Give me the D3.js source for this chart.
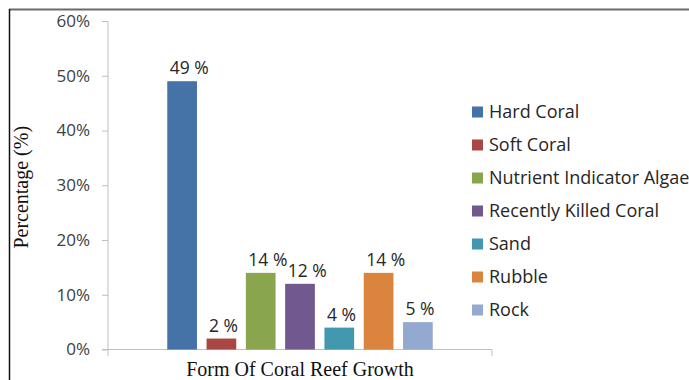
<!DOCTYPE html>
<html>
<head>
<meta charset="utf-8">
<script src="https://cdn.jsdelivr.net/npm/d3@7"></script>
<style>
  html, body { margin: 0; padding: 0; background: #fff; }
  svg { display: block; }
</style>
</head>
<body>
<svg id="chart" width="689" height="380"></svg>
<script>
// Benthic cover by growth form (percent)
const group = "Form Of Coral Reef Growth";
const forms = ["Hard Coral", "Soft Coral", "Nutrient Indicator Algae", "Recently Killed Coral", "Sand", "Rubble", "Rock"];
const cover = [49, 2, 14, 12, 4, 14, 5];
const colors = ["#4572A7", "#AA4643", "#89A54E", "#71588F", "#4198AF", "#DB843D", "#93A9CF"];
const yTicks = [0, 10, 20, 30, 40, 50, 60];

const svg = d3.select("#chart");
const W = 689, H = 380;
const plot = { left: 108, right: 492, top: 21, bottom: 349.5 };

// outer frame (top and left edges visible)
svg.append("line").attr("x1", 9).attr("x2", W).attr("y1", 9.5).attr("y2", 9.5)
  .attr("stroke", "#6b6b6b").attr("stroke-width", 2);
svg.append("line").attr("x1", 9.5).attr("x2", 9.5).attr("y1", 9).attr("y2", H)
  .attr("stroke", "#111").attr("stroke-width", 1.5);

const y = d3.scaleLinear().domain([0, 60]).range([plot.bottom, plot.top]);
const x0 = d3.scaleBand().domain([group]).range([plot.left, plot.right]).padding(0.1825);
const x1 = d3.scaleBand().domain(forms).range([0, x0.bandwidth()]).paddingInner(0.244);

const axisColor = "#bfbfbf";
const sans = "'Open Sans', sans-serif";
const serif = "'Liberation Serif', 'Times New Roman', serif";

// y axis
const yAxis = svg.append("g")
  .attr("transform", `translate(${plot.left},0)`)
  .call(d3.axisLeft(y).tickValues(yTicks).tickSize(6).tickPadding(12).tickFormat(d => d + "%"));
yAxis.select(".domain").attr("stroke", axisColor).attr("d", `M0,${plot.top}V${plot.bottom}`);
yAxis.selectAll(".tick line").attr("stroke", axisColor);
yAxis.selectAll(".tick text").attr("fill", "#404040").style("font-family", sans).style("font-size", "17px");

// x axis with boundary ticks at the category edges
const xAxis = svg.append("g").attr("transform", `translate(0,${plot.bottom})`);
xAxis.append("line").attr("x1", plot.left - 6).attr("x2", plot.right).attr("y1", 0).attr("y2", 0)
  .attr("stroke", axisColor);
xAxis.selectAll("line.edge").data(x0.range()).join("line").attr("class", "edge")
  .attr("x1", d => d).attr("x2", d => d).attr("y1", 0).attr("y2", 6.5)
  .attr("stroke", axisColor);
xAxis.append("text")
  .attr("x", x0(group) + x0.bandwidth() / 2).attr("y", 26)
  .attr("text-anchor", "middle")
  .style("font-family", serif).style("font-size", "20px")
  .attr("fill", "#111").text(group);

// y title
svg.append("text")
  .attr("transform", `translate(28,${(plot.top + plot.bottom) / 2 + 2}) rotate(-90)`)
  .attr("text-anchor", "middle")
  .style("font-family", serif).style("font-size", "20px")
  .attr("fill", "#111").text("Percentage (%)");

// bars
const rows = forms.map((f, i) => ({ form: f, value: cover[i], color: colors[i] }));
const bars = svg.append("g").attr("transform", `translate(${x0(group)},0)`);
bars.selectAll("rect").data(rows).join("rect")
  .attr("x", d => x1(d.form)).attr("width", x1.bandwidth())
  .attr("y", d => y(d.value)).attr("height", d => y(0) - y(d.value))
  .attr("fill", d => d.color);
bars.selectAll("text").data(rows).join("text")
  .attr("x", d => x1(d.form) + 2.5).attr("y", d => y(d.value) - 7)
  .style("font-family", sans).style("font-size", "17.5px")
  .attr("fill", "#262626").text(d => d.value + " %");

// legend
const legend = svg.append("g").attr("transform", "translate(472,112)");
const item = legend.selectAll("g").data(rows).join("g")
  .attr("transform", (d, i) => `translate(0,${i * 33})`);
item.append("rect").attr("x", 0).attr("y", -5.5).attr("width", 11).attr("height", 11)
  .attr("fill", d => d.color);
item.append("text").attr("x", 17).attr("y", 0).attr("dy", "0.36em")
  .style("font-family", sans).style("font-size", "18px")
  .attr("fill", "#262626").text(d => d.form);
</script>
</body>
</html>
